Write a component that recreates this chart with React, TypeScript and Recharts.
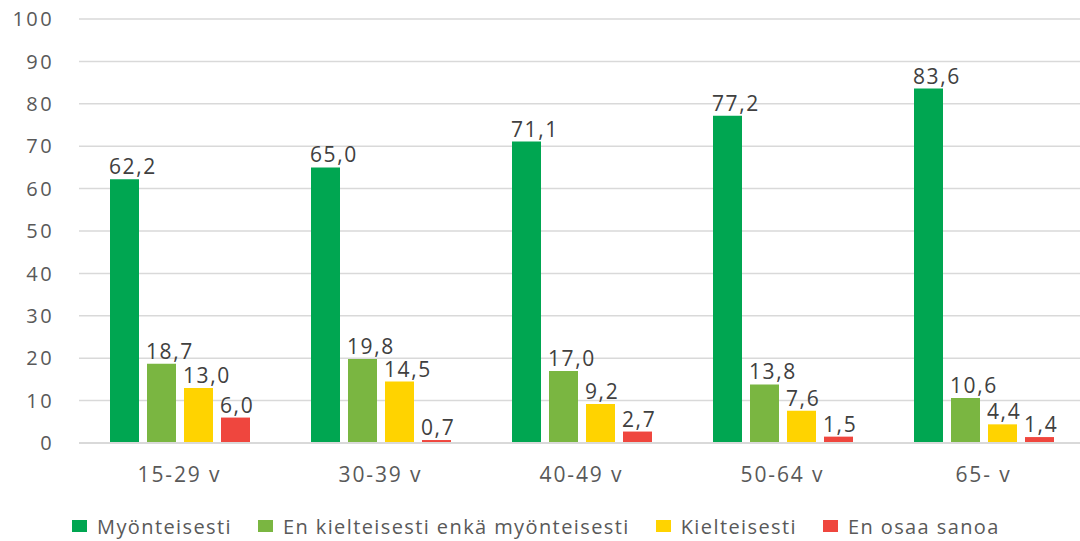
import React from "react";
import { BarChart, Bar, XAxis, YAxis, CartesianGrid, Legend, LabelList } from "recharts";

const categories = ["15-29 v", "30-39 v", "40-49 v", "50-64 v", "65- v"];
const myonteisesti = [62.2, 65.0, 71.1, 77.2, 83.6];
const enKielteisestiEnkaMyonteisesti = [18.7, 19.8, 17.0, 13.8, 10.6];
const kielteisesti = [13.0, 14.5, 9.2, 7.6, 4.4];
const enOsaaSanoa = [6.0, 0.7, 2.7, 1.5, 1.4];
const yTicks = [0, 10, 20, 30, 40, 50, 60, 70, 80, 90, 100];

const seriesDefs = [
  { key: "s1", name: "Myönteisesti", values: myonteisesti, color: "#00A651" },
  { key: "s2", name: "En kielteisesti enkä myönteisesti", values: enKielteisestiEnkaMyonteisesti, color: "#7AB641" },
  { key: "s3", name: "Kielteisesti", values: kielteisesti, color: "#FFD300" },
  { key: "s4", name: "En osaa sanoa", values: enOsaaSanoa, color: "#EF463E" },
];

const data = categories.map((c, i) => {
  const row: Record<string, any> = { category: c };
  seriesDefs.forEach((s) => (row[s.key] = s.values[i]));
  return row;
});

const FONT = "'Open Sans', 'Noto Sans', sans-serif";

const fmt = (v: number) => v.toFixed(1).replace(".", ",");

const DataLabel = (props: any) => {
  const { x, y, value } = props;
  return (
    <text
      x={x - 1}
      y={y - 5}
      textAnchor="start"
      fill="#404040"
      fontFamily={FONT}
      fontSize={21}
      letterSpacing={1.6}
    >
      {fmt(Number(value))}
    </text>
  );
};

const LegendContent = () => (
  <div
    style={{
      display: "flex",
      justifyContent: "flex-start",
      alignItems: "center",
      height: 30,
      fontFamily: FONT,
      fontSize: 20,
      letterSpacing: 1.4,
      color: "#595959",
      paddingLeft: 72,
    }}
  >
    {seriesDefs.map((s, i) => (
      <div key={s.key} style={{ display: "flex", alignItems: "center", marginLeft: i === 0 ? 0 : 26 }}>
        <span style={{ display: "inline-block", flex: "0 0 15px", width: 15, height: 12, background: s.color, marginRight: 10 }} />
        <span style={{ whiteSpace: "nowrap" }}>{s.name}</span>
      </div>
    ))}
  </div>
);

export default function App() {
  return (
    <div style={{ position: "absolute", left: 0, top: 0, width: 1080, height: 541, overflow: "hidden", background: "#fff" }}>
      <BarChart
        width={1090}
        height={541}
        data={data}
        margin={{ top: 19, right: 6, left: 0, bottom: 0 }}
        barSize={29}
        barGap={8}
      >
        <CartesianGrid vertical={false} stroke="#D9D9D9" strokeWidth={1.5} />
        <XAxis
          dataKey="category"
          height={68}
          tickLine={false}
          tickSize={0}
          tickMargin={24}
          axisLine={{ stroke: "#D9D9D9", strokeWidth: 2 }}
          tick={{ fill: "#595959", fontFamily: FONT, fontSize: 21, letterSpacing: 1.9 }}
        />
        <YAxis
          width={79}
          domain={[0, 100]}
          ticks={yTicks}
          interval={0}
          tickLine={false}
          axisLine={false}
          tickSize={0}
          tickMargin={25}
          tick={{ fill: "#595959", fontFamily: FONT, fontSize: 20, letterSpacing: 2.4 }}
        />
        <Legend verticalAlign="bottom" height={30} content={<LegendContent />} />
        {seriesDefs.map((s) => (
          <Bar key={s.key} dataKey={s.key} name={s.name} fill={s.color} isAnimationActive={false}>
            <LabelList dataKey={s.key} content={<DataLabel />} />
          </Bar>
        ))}
      </BarChart>
    </div>
  );
}
